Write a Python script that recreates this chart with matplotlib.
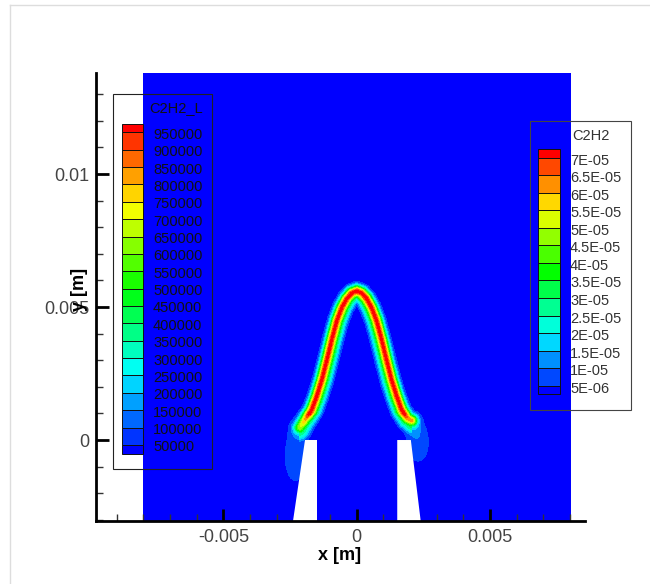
"""
C2H2 mass fraction contour above a slot burner, Tecplot style
"""
import numpy as np
import matplotlib
matplotlib.use("Agg")
import matplotlib.pyplot as plt
from matplotlib.colors import LinearSegmentedColormap
from matplotlib.patches import Rectangle, Polygon

plt.rcParams['font.family'] = ['Liberation Sans', 'DejaVu Sans']
plt.rcParams['axes.unicode_minus'] = False

# flame sheet centre line (m)
flame_x = [-0.00213, -0.00190, -0.00169, -0.00150, -0.00131, -0.00112, -0.00093, -0.00074,
           -0.00055, -0.00037, -0.00018, 0.0, 0.00018, 0.00037, 0.00055, 0.00074, 0.00093,
           0.00112, 0.00131, 0.00150, 0.00169, 0.00190, 0.00206]
flame_y = [0.00045, 0.00080, 0.00113, 0.00165, 0.00226, 0.00301, 0.00380, 0.00451,
           0.00500, 0.00532, 0.00553, 0.00560, 0.00553, 0.00532, 0.00500, 0.00451, 0.00380,
           0.00301, 0.00226, 0.00165, 0.00113, 0.00080, 0.00072]
flame_peak = 7.2e-5
flame_width = 0.00021
inner_tail = 1.0e-5
inner_off = 0.0003
inner_width = 0.00015

# low level patches near the burner lips
blob_x = [-0.0023, 0.0023, -0.00215, 0.00212]
blob_y = [-0.0006, -0.0001, 0.0003, 0.0004]
blob_sx = [0.0005, 0.0005, 0.0003, 0.0003]
blob_sy = [0.0012, 0.0009, 0.0003, 0.0003]
blob_amp = [9e-6, 9e-6, 6e-6, 6e-6]

# burner walls (white, no data)
wall_left_x = [-0.00194, -0.0015, -0.0015, -0.00238]
wall_left_y = [0.0, 0.0, -0.00305, -0.00305]
wall_right_x = [0.00152, 0.00203, 0.0024, 0.00152]
wall_right_y = [0.0, 0.0, -0.00305, -0.00305]

# domain
dom_x = [-0.008, 0.008]
dom_y = [-0.00305, 0.0138]

# legends
c2h2_levels = [5e-6, 1e-5, 1.5e-5, 2e-5, 2.5e-5, 3e-5, 3.5e-5, 4e-5, 4.5e-5,
               5e-5, 5.5e-5, 6e-5, 6.5e-5, 7e-5]
c2h2_labels = ['5E-06', '1E-05', '1.5E-05', '2E-05', '2.5E-05', '3E-05', '3.5E-05',
               '4E-05', '4.5E-05', '5E-05', '5.5E-05', '6E-05', '6.5E-05', '7E-05']
c2h2l_levels = [50000, 100000, 150000, 200000, 250000, 300000, 350000, 400000, 450000,
                500000, 550000, 600000, 650000, 700000, 750000, 800000, 850000, 900000, 950000]

cmap = LinearSegmentedColormap.from_list(
    'small_rainbow', ['#0000ff', '#00ffff', '#00ff00', '#ffff00', '#ff0000'])


def seg_dist(X, Y, xs, ys):
    d = np.full(X.shape, np.inf)
    for x0, y0, x1, y1 in zip(xs[:-1], ys[:-1], xs[1:], ys[1:]):
        dx, dy = x1 - x0, y1 - y0
        t = np.clip(((X - x0) * dx + (Y - y0) * dy) / (dx * dx + dy * dy), 0, 1)
        d = np.minimum(d, np.hypot(X - x0 - t * dx, Y - y0 - t * dy))
    return d


gx = np.linspace(dom_x[0], dom_x[1], 900)
gy = np.linspace(dom_y[0], dom_y[1], 950)
X, Y = np.meshgrid(gx, gy)
d = seg_dist(X, Y, flame_x, flame_y)
inside = (Y < np.interp(X, flame_x, flame_y)) & (X > flame_x[0]) & (X < flame_x[-1])
fade = np.clip(0.35 + (Y - 0.0002) / 0.0012, 0.35, 1.0)
Z = fade * flame_peak * np.exp(-(d / flame_width) ** 1.8) \
    + inside * inner_tail * np.exp(-((d - inner_off) / inner_width) ** 2)
for bx, by, sx, sy, a in zip(blob_x, blob_y, blob_sx, blob_sy, blob_amp):
    Z += a * np.exp(-((X - bx) / sx) ** 2 - ((Y - by) / sy) ** 2)

nb = len(c2h2_levels)
band_colors = [cmap(k / nb) for k in range(nb + 1)]

fig = plt.figure(figsize=(6.5, 5.84), dpi=100)
ax = fig.add_axes([96 / 650, 63 / 584, 489 / 650, 448 / 584])
ax.contourf(X, Y, Z, levels=[-1] + c2h2_levels + [1], colors=band_colors)
ax.add_patch(Polygon(list(zip(wall_left_x, wall_left_y)), closed=True, fc='white', ec='none', zorder=2))
ax.add_patch(Polygon(list(zip(wall_right_x, wall_right_y)), closed=True, fc='white', ec='none', zorder=2))

ax.set_xlim(-0.009775, 0.00856)
ax.set_ylim(-0.003045, 0.0138)
for s in ['top', 'right']:
    ax.spines[s].set_visible(False)
for s in ['left', 'bottom']:
    ax.spines[s].set_linewidth(2)
    ax.spines[s].set_zorder(5)
ax.set_xticks([-0.005, 0, 0.005])
ax.set_xticklabels(['-0.005', '0', '0.005'])
ax.set_yticks([0, 0.005, 0.01])
ax.set_yticklabels(['0', '0.005', '0.01'])
ax.set_xticks(np.arange(-0.009, 0.0086, 0.001), minor=True)
ax.set_yticks(np.arange(-0.003, 0.0139, 0.001), minor=True)
ax.tick_params(which='major', direction='in', length=9, width=2, labelsize=13,
               labelcolor='#444444', pad=5, zorder=6)
ax.tick_params(which='minor', direction='in', length=5, width=1, color='#333333')
ax.tick_params(axis='x', which='major', pad=6)

fig.text(340 / 650, 1 - 556 / 584, 'x [m]', ha='center', va='center', fontsize=13, fontweight='bold')
fig.text(79 / 650, 1 - 289 / 584, 'y [m]', ha='center', va='center', rotation=90,
         fontsize=13, fontweight='bold')

# overlay in pixel units for the legends and the page frame
ov = fig.add_axes([0, 0, 1, 1], zorder=10)
ov.set_xlim(0, 650)
ov.set_ylim(584, 0)
ov.axis('off')
ov.patch.set_alpha(0)
ov.plot([10, 650], [4.5, 4.5], color='#dddddd', lw=1)
ov.plot([10, 10], [4.5, 584], color='#dddddd', lw=1)

# left legend (C2H2_L)
ov.add_patch(Rectangle((113, 94), 99, 375, fill=False, ec='#222222', lw=0.8))
ov.text(176, 108, 'C2H2_L', ha='center', va='center', fontsize=10.5, color='#111111')
nl = len(c2h2l_levels)
step = 17.37
bounds = [132.3 + step * i for i in range(nl)]
edges = [bounds[0] - step / 2] + bounds + [bounds[-1] + step / 2]
for j in range(nl + 1):
    ov.add_patch(Rectangle((121.7, edges[j]), 21.6, edges[j + 1] - edges[j],
                           fc=cmap((nl - j) / nl), ec='#111111', lw=0.7))
for i, v in enumerate(c2h2l_levels[::-1]):
    ov.text(153, bounds[i] + 2.5, str(v), ha='left', va='center', fontsize=10.5, color='#111111')

# right legend (C2H2)
ov.add_patch(Rectangle((530, 120.7), 101, 289.3, fill=False, ec='#444444', lw=0.8))
ov.text(591, 136, 'C2H2', ha='center', va='center', fontsize=10.5, color='#333333')
step = 17.54
bounds = [157.7 + step * i for i in range(nb)]
edges = [bounds[0] - step / 2] + bounds + [bounds[-1] + step / 2]
for j in range(nb + 1):
    ov.add_patch(Rectangle((538.3, edges[j]), 21.7, edges[j + 1] - edges[j],
                           fc=cmap((nb - j) / nb), ec='#111111', lw=0.7))
for i, lab in enumerate(c2h2_labels[::-1]):
    ov.text(570, bounds[i] + 3, lab, ha='left', va='center', fontsize=10.5, color='#333333')

fig.savefig('out.png', dpi=100)
